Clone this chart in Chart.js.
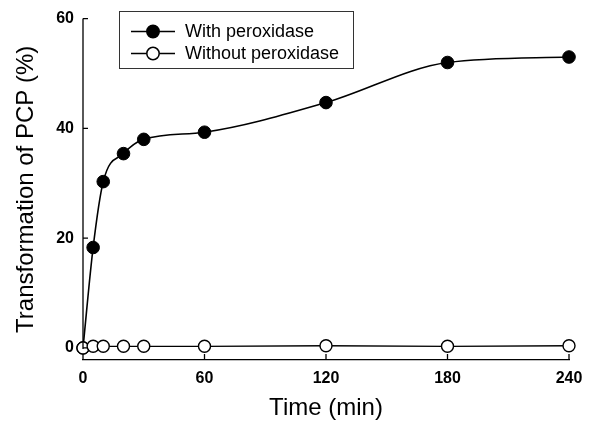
<!DOCTYPE html>
<html>
<head>
<meta charset="utf-8">
<script src="https://cdn.jsdelivr.net/npm/chart.js@4"></script>
<style>
  html, body { margin: 0; padding: 0; background: #fff; }
  #wrap { width: 592px; height: 421px; }
</style>
</head>
<body>
<div id="wrap"><canvas id="c" width="592" height="421"></canvas></div>
<script>
// donnees
var timeMin = [0, 5, 10, 20, 30, 60, 120, 180, 240]
var withPerox = [0, 18.3, 30.3, 35.4, 38.0, 39.3, 44.7, 52.0, 53.0]
var withoutPerox = [0, 0.3, 0.3, 0.3, 0.3, 0.3, 0.4, 0.3, 0.4]
var xTicks = [0, 60, 120, 180, 240]
var yTicks = [0, 20, 40, 60]
var seriesLabels = ["With peroxidase", "Without peroxidase"]

var FONT = "'Liberation Sans', Arial, sans-serif"

function toPoints(xs, ys) {
    return xs.map(function (t, i) { return {x: t, y: ys[i]} })
}

// axes facon SigmaPlot : ticks vers l'interieur, axe y qui s'arrete a 0
const axesPlugin = {
    id: 'axesInward',
    afterDraw: (chart) => {
        const {ctx, scales, chartArea} = chart
        const x = scales.x, y = scales.y
        ctx.save()
        ctx.strokeStyle = '#000'
        ctx.lineWidth = 1.3
        const ax = chartArea.left
        ctx.beginPath()
        ctx.moveTo(ax, y.getPixelForValue(0) + 1)
        ctx.lineTo(ax, y.getPixelForValue(60))
        yTicks.forEach(function (v) {
            const py = y.getPixelForValue(v)
            ctx.moveTo(ax, py)
            ctx.lineTo(ax + 5, py)
        })
        const by = chartArea.bottom
        xTicks.forEach(function (v) {
            const px = x.getPixelForValue(v)
            ctx.moveTo(px, by)
            ctx.lineTo(px, by - 6)
        })
        ctx.stroke()
        ctx.restore()
    }
}

// legende encadree avec trait + marqueur
const legendPlugin = {
    id: 'boxLegend',
    afterDraw: (chart) => {
        const ctx = chart.ctx
        const box = {l: 119.5, t: 11.5, w: 234, h: 57}
        ctx.save()
        ctx.strokeStyle = '#333'
        ctx.lineWidth = 1
        ctx.strokeRect(box.l, box.t, box.w, box.h)
        const rows = [31.5, 53.5]
        chart.data.datasets.forEach(function (ds, i) {
            const cy = rows[i]
            ctx.strokeStyle = '#000'
            ctx.lineWidth = 1.5
            ctx.beginPath()
            ctx.moveTo(131, cy)
            ctx.lineTo(175, cy)
            ctx.stroke()
            ctx.beginPath()
            ctx.arc(153, cy, 6.2, 0, Math.PI * 2)
            ctx.fillStyle = ds.pointBackgroundColor
            ctx.fill()
            ctx.stroke()
            ctx.fillStyle = '#000'
            ctx.font = '18px ' + FONT
            ctx.textBaseline = 'middle'
            ctx.fillText(ds.label, 185, cy + 1)
        })
        ctx.restore()
    }
}

var config = {
    type: 'line',
    data: {
        datasets: [{
            label: seriesLabels[0],
            data: toPoints(timeMin, withPerox),
            borderColor: '#000',
            borderWidth: 1.6,
            pointRadius: 6.3,
            pointBackgroundColor: '#000',
            pointBorderColor: '#000',
            pointBorderWidth: 1,
            cubicInterpolationMode: 'monotone',
            clip: false,
            order: 1
        }, {
            label: seriesLabels[1],
            data: toPoints(timeMin, withoutPerox),
            borderColor: '#000',
            borderWidth: 1.3,
            pointRadius: 6,
            pointBackgroundColor: '#fff',
            pointBorderColor: '#000',
            pointBorderWidth: 1.4,
            clip: false,
            order: 0
        }]
    },
    options: {
        responsive: false,
        animation: false,
        events: [],
        layout: {padding: {top: 16, right: 23, bottom: 0, left: 0}},
        plugins: {
            legend: {display: false},
            tooltip: {enabled: false}
        },
        scales: {
            x: {
                type: 'linear',
                min: 0,
                max: 240,
                afterFit: (s) => { s.height = 61 },
                afterBuildTicks: (s) => { s.ticks = xTicks.map(v => ({value: v})) },
                grid: {display: true, drawOnChartArea: false, drawTicks: false},
                border: {display: true, color: '#000', width: 1.3},
                ticks: {color: '#000', padding: 9, maxRotation: 0, font: {family: FONT, size: 16, weight: 'bold'}},
                title: {display: true, text: 'Time (min)', color: '#000', padding: {top: 0, bottom: 1},
                        font: {family: FONT, size: 24, lineHeight: 1}}
            },
            y: {
                min: -2.2,
                max: 60,
                afterFit: (s) => { s.width = 83 },
                afterBuildTicks: (s) => { s.ticks = yTicks.map(v => ({value: v})) },
                grid: {display: false, drawTicks: false},
                border: {display: false},
                ticks: {color: '#000', padding: 9, font: {family: FONT, size: 16, weight: 'bold'}},
                title: {display: true, text: 'Transformation of PCP (%)', color: '#000', padding: {top: 14, bottom: 0},
                        font: {family: FONT, size: 24, lineHeight: 1}}
            }
        }
    },
    plugins: [axesPlugin, legendPlugin]
}

var chart = new Chart(document.getElementById('c'), config)
</script>
</body>
</html>
